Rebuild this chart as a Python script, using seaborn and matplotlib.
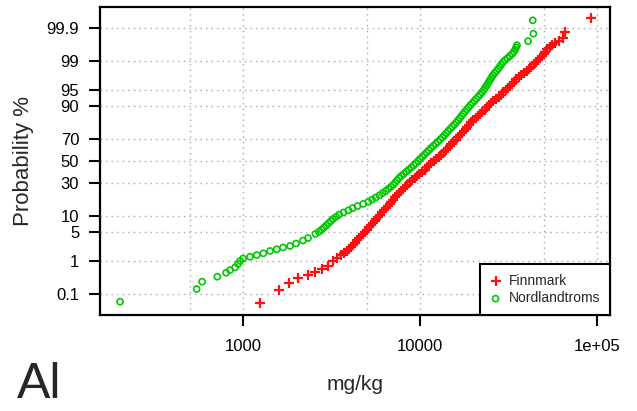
import matplotlib
matplotlib.use("Agg")
import matplotlib.pyplot as plt
import numpy as np
import pandas as pd
import seaborn as sns
from statistics import NormalDist

# Al concentrations (mg/kg) and cumulative probability (%)
finnmark_conc = [1248, 1597, 1826, 2054, 2339, 2552, 2784, 3034, 3226,
                 3401, 3565, 3721, 3849, 3976, 4087, 4200, 4311, 4418, 4535,
                 4648, 4771, 4903, 5045, 5171, 5287, 5412, 5540, 5672, 5806,
                 5943, 6085, 6229, 6393, 6553, 6726, 6894, 7075, 7253, 7444,
                 7630, 7832, 8028, 8260, 8490, 8746, 9024, 9309, 9605, 9922,
                 10270, 10620, 10950, 11270, 11600, 11930, 12380, 12820, 13210, 13590,
                 13970, 14340, 14700, 15040, 15420, 15890, 16370, 16870, 17270, 17650,
                 18070, 18500, 18990, 19490, 20000, 20610, 21240, 21880, 22490, 23140,
                 23790, 24480, 25150, 25880, 26810, 27760, 28720, 29600, 30500, 31380,
                 32160, 33010, 33920, 34960, 36020, 37210, 38540, 39970, 41240, 42550,
                 43900, 45290, 46480, 47580, 48710, 49860, 50970, 52180, 53900, 55760, 57910,
                 60990, 64250, 65920, 92430]
finnmark_prob = [0.045, 0.13, 0.215, 0.31, 0.39, 0.49, 0.59, 0.72, 0.99,
                 1.222, 1.390, 1.578, 1.786, 2.018, 2.275, 2.559, 2.872, 3.216, 3.593,
                 4.006, 4.457, 4.947, 5.480, 6.057, 6.681, 7.353, 8.076, 8.851, 9.680,
                 10.565, 11.507, 12.507, 13.567, 14.686, 15.866, 17.106, 18.406, 19.766, 21.186,
                 22.663, 24.196, 25.785, 27.425, 29.116, 30.854, 32.636, 34.458, 36.317, 38.209,
                 40.129, 42.074, 44.038, 46.017, 48.006, 50.0, 51.994, 53.983, 55.962, 57.926,
                 59.871, 61.791, 63.683, 65.542, 67.364, 69.146, 70.884, 72.575, 74.215, 75.804,
                 77.337, 78.814, 80.234, 81.594, 82.894, 84.134, 85.314, 86.433, 87.493, 88.493,
                 89.435, 90.320, 91.149, 91.924, 92.647, 93.319, 93.943, 94.520, 95.053, 95.543,
                 95.994, 96.407, 96.784, 97.128, 97.441, 97.725, 97.982, 98.214, 98.422, 98.610,
                 98.778, 98.928, 99.061, 99.180, 99.286, 99.379, 99.461, 99.534, 99.598, 99.653, 99.702,
                 99.75, 99.79, 99.87, 99.957]

nordland_conc = [202, 547, 587, 716, 802, 845, 902, 937, 962, 1000,
                 1095, 1195, 1302, 1421, 1549, 1683, 1843, 1993, 2183, 2329,
                 2564, 2681, 2777, 2865, 2955, 3045, 3133, 3228, 3357, 3491,
                 3697, 3935, 4161, 4436, 4771, 5104, 5356, 5620, 5897, 6141,
                 6393, 6622, 6849, 7075, 7243, 7425, 7611, 7822, 8091, 8349,
                 8636, 8930, 9213, 9469, 9743, 10010, 10300, 10590, 10900, 11200,
                 11520, 11870, 12250, 12610, 12990, 13370, 13720, 14080, 14430, 14810,
                 15200, 15610, 16020, 16390, 16760, 17140, 17540, 17940, 18360, 18790,
                 19240, 19720, 20270, 20800, 21320, 21830, 22350, 22850, 23240, 23660,
                 24070, 24510, 24930, 25350, 25820, 26390, 27020, 27660, 28210, 28770,
                 29370, 30220, 31180, 32160, 33190, 33880, 34510, 34910, 35280,
                 40740, 43650, 43330]
nordland_prob = [0.052, 0.142, 0.245, 0.35, 0.46, 0.55, 0.66, 0.82, 0.99, 1.15,
                 1.28, 1.42, 1.57, 1.80, 1.98, 2.19, 2.38, 2.72, 3.19, 3.63,
                 4.457, 4.947, 5.480, 6.057, 6.681, 7.353, 8.076, 8.851, 9.680, 10.565,
                 11.507, 12.507, 13.567, 14.686, 15.866, 17.106, 18.406, 19.766, 21.186, 22.663,
                 24.196, 25.785, 27.425, 29.116, 30.854, 32.636, 34.458, 36.317, 38.209, 40.129,
                 42.074, 44.038, 46.017, 48.006, 50.0, 51.994, 53.983, 55.962, 57.926, 59.871,
                 61.791, 63.683, 65.542, 67.364, 69.146, 70.884, 72.575, 74.215, 75.804, 77.337,
                 78.814, 80.234, 81.594, 82.894, 84.134, 85.314, 86.433, 87.493, 88.493, 89.435,
                 90.320, 91.149, 91.924, 92.647, 93.319, 93.943, 94.520, 95.053, 95.543, 95.994,
                 96.407, 96.784, 97.128, 97.441, 97.725, 97.982, 98.214, 98.422, 98.610, 98.778,
                 98.928, 99.061, 99.180, 99.286, 99.379, 99.461, 99.534, 99.598, 99.653,
                 99.74, 99.85, 99.948]

prob_ticks = [0.1, 1, 5, 10, 30, 50, 70, 90, 95, 99, 99.9]
prob_labels = ["0.1", "1", "5", "10", "30", "50", "70", "90", "95", "99", "99.9"]

nd = NormalDist()


def to_z(p):
    return [nd.inv_cdf(v / 100.0) for v in p]


df_f = pd.DataFrame({"conc": finnmark_conc, "z": to_z(finnmark_prob)})
df_n = pd.DataFrame({"conc": nordland_conc, "z": to_z(nordland_prob)})

sns.set_style("white")
plt.rcParams['font.family'] = ['Liberation Sans', 'DejaVu Sans']

fig = plt.figure(figsize=(6.37, 4.11), dpi=100)
ax = fig.add_axes([100 / 637, 1 - 315 / 411, 510 / 637, 308 / 411])

sns.scatterplot(ax=ax, data=df_f, x="conc", y="z", marker="+", color="#ff1010",
                s=52, linewidth=1.6, label="Finnmark", zorder=3)
sns.scatterplot(ax=ax, data=df_n, x="conc", y="z", marker="o", facecolors="none",
                edgecolor="#00c800", s=19, linewidth=1.2, label="Nordlandtroms", zorder=3)

ax.set_xscale("log")
ax.set_xlim(155.6, 118300)
ax.set_ylim(-3.59, 3.59)

ax.set_xticks([1000, 10000, 100000])
ax.set_xticklabels(["1000", "10000", "1e+05"])
ax.set_xticks([500, 5000, 50000], minor=True)
ax.set_xticklabels([], minor=True)
ax.set_yticks(to_z(prob_ticks))
ax.set_yticklabels(prob_labels)

ax.tick_params(axis="both", which="major", direction="out", length=8, width=1.5,
               labelsize=12, colors="black", pad=7, bottom=True, left=True)
ax.tick_params(axis="x", which="minor", length=0)
ax.tick_params(axis="x", pad=9)

ax.grid(True, which="both", color="#a8a8a8", linestyle=(0, (1, 3)), linewidth=1.0)
ax.set_axisbelow(True)
for sp in ax.spines.values():
    sp.set_visible(True)
    sp.set_color("black")
    sp.set_linewidth(1.6)

ax.set_xlabel("mg/kg", fontsize=15)
ax.set_ylabel("Probability %", fontsize=16)
ax.xaxis.set_label_coords(0.5, -0.195)
ax.yaxis.set_label_coords(-0.13, 0.5)

leg = ax.legend(loc="lower right", fontsize=10, frameon=True, fancybox=False,
                borderaxespad=0, handlelength=0.9, handletextpad=0.5,
                borderpad=0.7, labelspacing=0.25)
leg.get_frame().set_edgecolor("black")
leg.get_frame().set_linewidth(1.5)
leg.get_frame().set_alpha(1)

fig.text(17 / 637, 1 - 398 / 411, "Al", fontsize=36, ha="left", va="baseline")

fig.savefig("out.png", dpi=100)
